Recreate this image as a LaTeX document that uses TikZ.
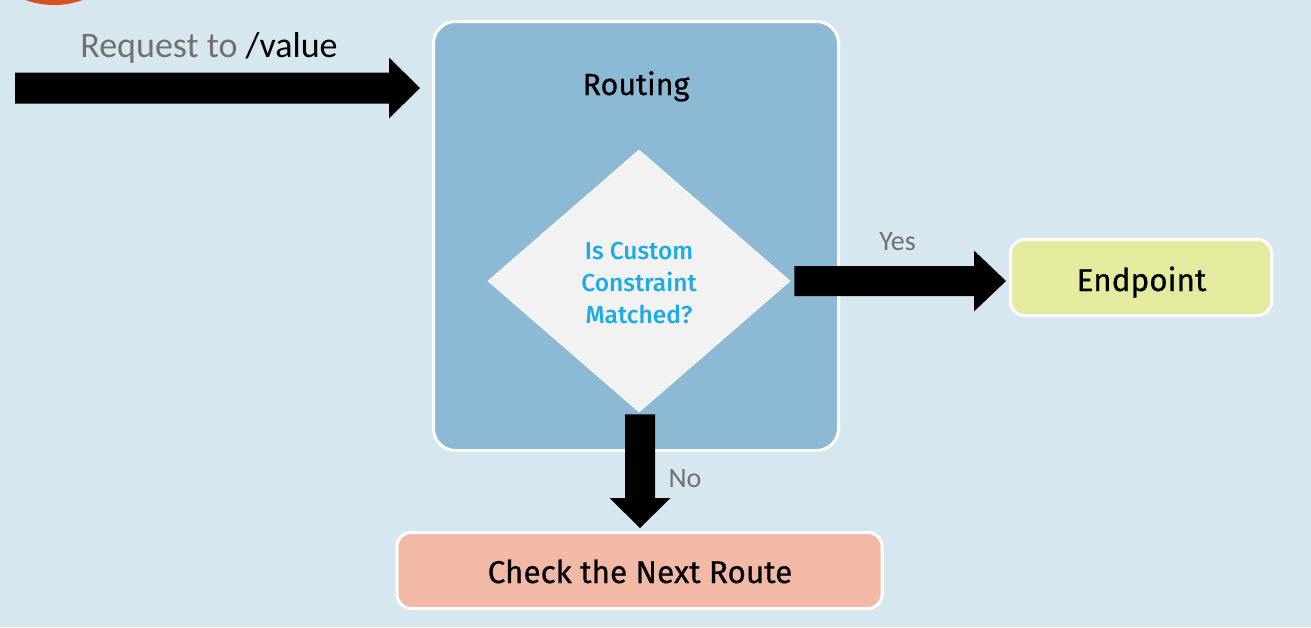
\documentclass[tikz,border=0pt]{standalone}
\usepackage{fontspec}
\setmainfont{Carlito}
\newfontfamily\dinfont{Fira Sans}[FakeBold=0.6]
\newfontfamily\dinbold{Fira Sans Medium}
\usetikzlibrary{calc,shapes.geometric}
\definecolor{bgc}{RGB}{215,231,240}
\definecolor{routebg}{RGB}{140,185,212}
\definecolor{diamc}{RGB}{242,242,242}
\definecolor{endpc}{RGB}{228,235,159}
\definecolor{nextc}{RGB}{242,185,166}
\definecolor{qblue}{RGB}{29,171,230}
\definecolor{lblgray}{RGB}{112,112,112}
\definecolor{badgec}{RGB}{216,80,30}
% horizontal block arrow: start, tip, shaft half, head length, head half
\newcommand\hblockarrow[5]{\fill let \p1=(#1), \p2=(#2) in
  (\x1,\y1+#3pt) -- (\x2-#4pt,\y1+#3pt) -- (\x2-#4pt,\y1+#5pt) -- (\x2,\y1)
  -- (\x2-#4pt,\y1-#5pt) -- (\x2-#4pt,\y1-#3pt) -- (\x1,\y1-#3pt) -- cycle;}
% vertical (downward) block arrow
\newcommand\vblockarrow[5]{\fill let \p1=(#1), \p2=(#2) in
  (\x1-#3pt,\y1) -- (\x1-#3pt,\y2+#4pt) -- (\x1-#5pt,\y2+#4pt) -- (\x1,\y2)
  -- (\x1+#5pt,\y2+#4pt) -- (\x1+#3pt,\y2+#4pt) -- (\x1+#3pt,\y1) -- cycle;}
\tikzset{
  box/.style={draw=white, line width=3pt, rounded corners=14pt, inner sep=0pt},
  boxtext/.style={font=\dinfont\fontsize{31.5}{38}\selectfont, text=black},
  lbl/.style={font=\fontsize{28}{32}\selectfont, text=lblgray, anchor=base},
}
\begin{document}
\begin{tikzpicture}[x=1pt,y=-1pt]
\useasboundingbox (0,0) rectangle (1311,627);
\fill[bgc] (0,0) rectangle (1311,627);
\begin{scope}
  \clip (0,0) rectangle (1311,627);
  \fill[badgec] (54,-79) circle (84);
\end{scope}
% routing container
\node[box, fill=routebg, rounded corners=22pt, minimum width=405pt, minimum height=429pt] (routing) at (636,236) {};
\node[font=\dinfont\fontsize{30.5}{36}\selectfont, anchor=base] (title) at (636,95) {Routing};
% decision diamond
\node[diamond, fill=diamc, draw=white, line width=0.8pt, inner sep=0pt,
      minimum width=302pt, minimum height=262pt] (decide) at (639,281) {};
\node[font=\dinbold\fontsize{24.5}{32}\selectfont, text=qblue, align=center] (question) at (639,283)
  {Is Custom\\Constraint\\Matched?};
% targets
\node[box, fill=endpc, minimum width=261pt, minimum height=76pt] (endpoint) at (1141,277.5) {};
\node[boxtext, anchor=base] (endtxt) at (1141.5,291) {Endpoint};
\node[box, fill=nextc, minimum width=485pt, minimum height=76pt] (next) at (639.5,570.5) {};
\node[boxtext, anchor=base] (nexttxt) at (640,583) {Check the Next Route};
% request label
\node[font=\fontsize{36}{40}\selectfont, anchor=base] (req) at (209,57)
  {\textcolor{lblgray}{Request to} /value};
% arrows
\coordinate (inS) at (15,88);
\coordinate (inT) at ($(routing.west)+(-12,0)$);
\hblockarrow{inS}{inT}{15.5}{31}{30.5}
\coordinate (yesS) at (decide.east);
\coordinate (yesS2) at ($(yesS)+(4,0)$);
\coordinate (yesT) at ($(endpoint.west)+(-3,2.5)$);
\hblockarrow{yesS2}{yesT}{15}{32}{30.5}
\coordinate (noS) at ($(decide.south)+(1,2)$);
\coordinate (noT) at ($(next.north)+(0,-3)$);
\vblockarrow{noS}{noT}{15}{30}{30.5}
\node[lbl] (yes) at (897.5,250) {Yes};
\node[lbl] (no) at (685,487) {No};
\end{tikzpicture}
\end{document}
